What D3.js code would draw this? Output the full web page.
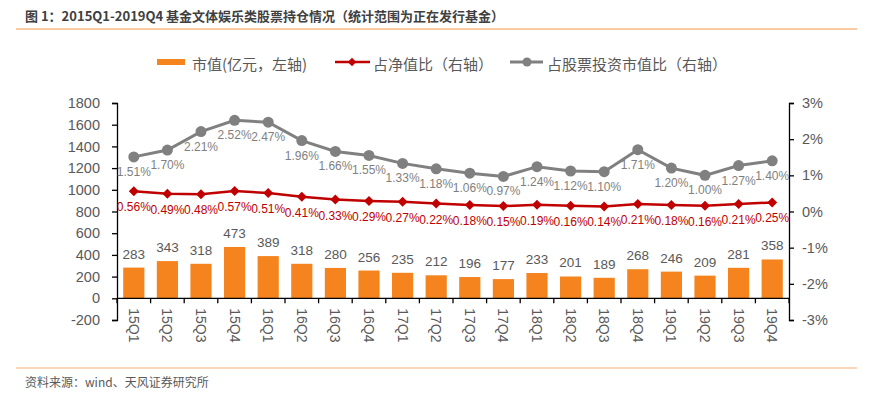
<!DOCTYPE html>
<html><head><meta charset="utf-8">
<script src="https://cdn.jsdelivr.net/npm/d3@7"></script>
<style>
body{margin:0;background:#fff;}
svg{display:block;font-family:"Liberation Sans",Arial,"Noto Sans CJK SC",sans-serif;}
</style></head><body>
<svg id="c" width="878" height="403"></svg>
<script>
const categories = ["15Q1","15Q2","15Q3","15Q4","16Q1","16Q2","16Q3","16Q4","17Q1","17Q2","17Q3","17Q4","18Q1","18Q2","18Q3","18Q4","19Q1","19Q2","19Q3","19Q4"];
const marketValue = [283,343,318,473,389,318,280,256,235,212,196,177,233,201,189,268,246,209,281,358];
const navRatio = [0.56,0.49,0.48,0.57,0.51,0.41,0.33,0.29,0.27,0.22,0.18,0.15,0.19,0.16,0.14,0.21,0.18,0.16,0.21,0.25];
const stockRatio = [1.51,1.70,2.21,2.52,2.47,1.96,1.66,1.55,1.33,1.18,1.06,0.97,1.24,1.12,1.10,1.71,1.20,1.00,1.27,1.40];
const leftTicks = [-200,0,200,400,600,800,1000,1200,1400,1600,1800];
const rightTicks = [-3,-2,-1,0,1,2,3];
const seriesNames = ["市值(亿元，左轴)","占净值比（右轴）","占股票投资市值比（右轴）"];
const titleText = "图 1：2015Q1-2019Q4 基金文体娱乐类股票持仓情况（统计范围为正在发行基金）";
const sourceText = "资料来源：wind、天风证券研究所";

const svg = d3.select("#c");
const cjk = '"Noto Sans CJK SC","Liberation Sans",sans-serif';
const orange = "#F5841F", red = "#C00000", gray = "#808080", txt = "#595959";

// header
svg.append("text").attr("x",25).attr("y",21).attr("font-family",cjk).attr("font-weight","bold")
  .attr("font-size",13).attr("fill","#404040").text(titleText);
svg.append("line").attr("x1",16).attr("x2",857).attr("y1",29).attr("y2",29).attr("stroke","#F8B983").attr("stroke-width",1.5);
svg.append("line").attr("x1",16).attr("x2",857).attr("y1",368).attr("y2",368).attr("stroke","#F8C9A3").attr("stroke-width",1.5);
svg.append("text").attr("x",25).attr("y",387).attr("font-family",cjk).attr("font-size",12).attr("fill",txt).text(sourceText);

const L = 117, R = 789, T = 103, B = 320;
const x = d3.scaleBand().domain(categories).range([L,R]).paddingInner(0.37).paddingOuter(0.185);
const xb = d3.scaleBand().domain(categories).range([L,R]);
const yL = d3.scaleLinear().domain([-200,1800]).range([B,T]);
const yR = d3.scaleLinear().domain([-3,3]).range([B,T]);

// bars
svg.append("g").selectAll("rect").data(marketValue).join("rect")
  .attr("x",(d,i)=>x(categories[i])).attr("width",x.bandwidth())
  .attr("y",d=>yL(d)).attr("height",d=>yL(0)-yL(d)).attr("fill",orange);

// left axis
const gl = svg.append("g").attr("transform",`translate(${L},0)`)
  .call(d3.axisLeft(yL).tickValues(leftTicks).tickSize(5).tickPadding(12).tickFormat(d=>String(d)));
// right axis
const gr = svg.append("g").attr("transform",`translate(${R},0)`)
  .call(d3.axisRight(yR).tickValues(rightTicks).tickSize(5).tickPadding(8).tickFormat(d=>d+"%"));
[gl,gr].forEach(g=>{
  g.select(".domain").attr("stroke","#000").attr("stroke-width",1.3);
  g.selectAll(".tick line").attr("stroke","#000").attr("stroke-width",1.3);
  g.selectAll(".tick text").attr("font-size",14.5).attr("fill",txt).attr("font-family","Liberation Sans, Arial, sans-serif");
});

// x axis at 0
const gx = svg.append("g").attr("transform",`translate(0,${yL(0)})`);
gx.append("line").attr("x1",L).attr("x2",R).attr("stroke","#000").attr("stroke-width",1.3);
gx.selectAll("line.t").data(d3.range(categories.length+1)).join("line").attr("class","t")
  .attr("x1",i=>L+i*xb.step()).attr("x2",i=>L+i*xb.step()).attr("y1",0).attr("y2",5)
  .attr("stroke","#000").attr("stroke-width",1.3);
gx.selectAll("text").data(categories).join("text")
  .attr("transform",d=>`translate(${xb(d)+xb.bandwidth()/2},10) rotate(90)`)
  .attr("dominant-baseline","central").attr("font-size",14).attr("fill",txt).text(d=>d);

// bar labels
svg.append("g").selectAll("text").data(marketValue).join("text")
  .attr("x",(d,i)=>xb(categories[i])+xb.bandwidth()/2).attr("y",d=>yL(d)-9)
  .attr("text-anchor","middle").attr("font-size",13.5).attr("fill",txt).text(d=>d);

const cx = i=>xb(categories[i])+xb.bandwidth()/2;
// gray line
svg.append("path").datum(stockRatio).attr("fill","none").attr("stroke",gray).attr("stroke-width",3)
  .attr("d",d3.line().x((d,i)=>cx(i)).y(d=>yR(d)));
svg.append("g").selectAll("circle").data(stockRatio).join("circle")
  .attr("cx",(d,i)=>cx(i)).attr("cy",d=>yR(d)).attr("r",5.5).attr("fill",gray);
svg.append("g").selectAll("text").data(stockRatio).join("text")
  .attr("x",(d,i)=>cx(i)).attr("y",d=>yR(d)+19)
  .attr("text-anchor","middle").attr("font-size",12).attr("fill","#7F7F7F").text(d=>d.toFixed(2)+"%");

// red line
svg.append("path").datum(navRatio).attr("fill","none").attr("stroke",red).attr("stroke-width",2.5)
  .attr("d",d3.line().x((d,i)=>cx(i)).y(d=>yR(d)));
svg.append("g").selectAll("path").data(navRatio).join("path")
  .attr("d",d3.symbol().type(d3.symbolSquare).size(50))
  .attr("transform",(d,i)=>`translate(${cx(i)},${yR(d)}) rotate(45)`)
  .attr("fill",red);
svg.append("g").selectAll("text").data(navRatio).join("text")
  .attr("x",(d,i)=>cx(i)).attr("y",d=>yR(d)+20)
  .attr("text-anchor","middle").attr("font-size",12).attr("fill",red).text(d=>d.toFixed(2)+"%");

// legend
const lg = svg.append("g").attr("font-family",cjk).attr("font-size",15).attr("fill",txt);
lg.append("rect").attr("x",157).attr("y",59).attr("width",28).attr("height",6).attr("fill",orange);
lg.append("text").attr("x",192).attr("y",70).text(seriesNames[0]);
lg.append("line").attr("x1",335).attr("x2",370).attr("y1",62).attr("y2",62).attr("stroke",red).attr("stroke-width",2.5);
lg.append("path").attr("d",d3.symbol().type(d3.symbolSquare).size(36)).attr("transform","translate(352,62) rotate(45)").attr("fill",red);
lg.append("text").attr("x",373).attr("y",70).text(seriesNames[1]);
lg.append("line").attr("x1",510).attr("x2",543).attr("y1",62).attr("y2",62).attr("stroke",gray).attr("stroke-width",3);
lg.append("circle").attr("cx",527).attr("cy",62).attr("r",4.5).attr("fill",gray);
lg.append("text").attr("x",547).attr("y",70).text(seriesNames[2]);
</script>
</body></html>
